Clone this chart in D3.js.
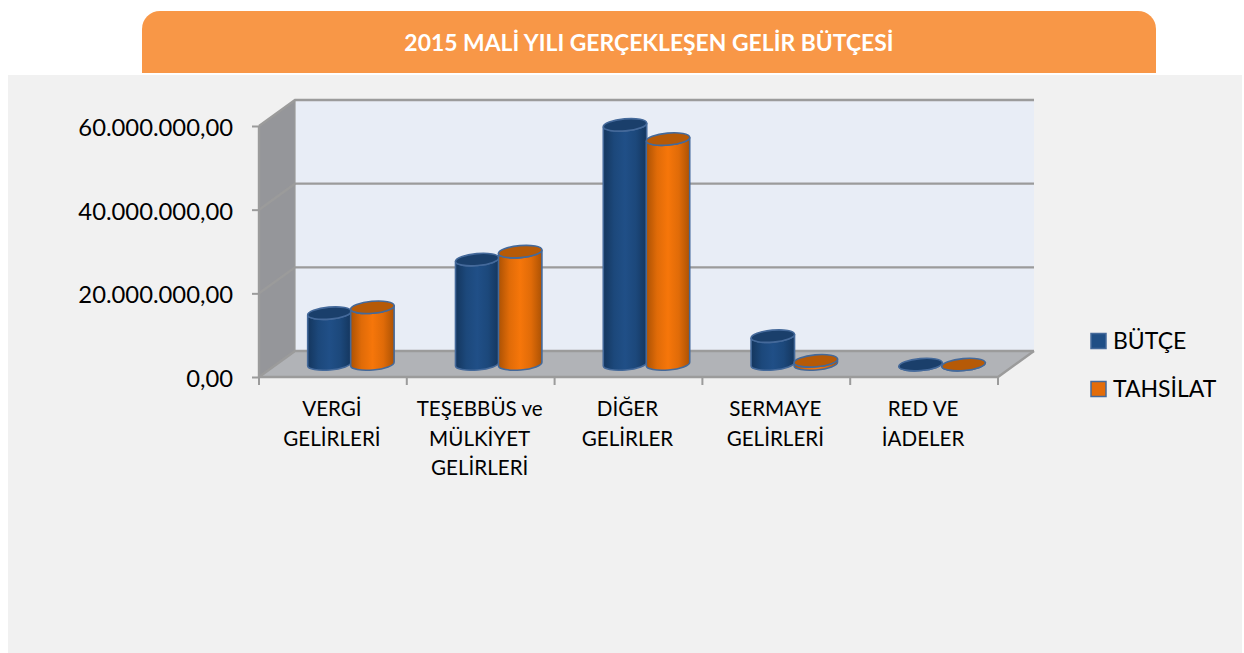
<!DOCTYPE html>
<html><head><meta charset="utf-8">
<script src="https://cdnjs.cloudflare.com/ajax/libs/d3/7.8.5/d3.min.js"></script>
<style>html,body{margin:0;padding:0;background:#fff;overflow:hidden}svg{display:block}text{font-family:Lato,"Open Sans",sans-serif}</style>
</head><body><svg id="c" width="1244" height="653"></svg>
<script>
const titleText = "2015 MALİ YILI GERÇEKLEŞEN GELİR BÜTÇESİ";
const categories = ["VERGİ GELİRLERİ","TEŞEBBÜS ve MÜLKİYET GELİRLERİ","DİĞER GELİRLER","SERMAYE GELİRLERİ","RED VE İADELER"];
const categoryLines = [["VERGİ","GELİRLERİ"],["TEŞEBBÜS ve","MÜLKİYET","GELİRLERİ"],["DİĞER","GELİRLER"],["SERMAYE","GELİRLERİ"],["RED VE","İADELER"]];
const seriesNames = ["BÜTÇE","TAHSİLAT"];
const butce = [12400000,25200000,57400000,6900000,100000];
const tahsilat = [13800000,27100000,54000000,1000000,100000];
const yTicks = [0,20000000,40000000,60000000];

const svg = d3.select("#c");
const depth = {x:36,y:-26};
const x = d3.scaleBand().domain(categories).range([259,998]).paddingInner(0).paddingOuter(0);
const y = d3.scaleLinear().domain([0,60000000]).range([377,126]);
const fmt = d3.formatLocale({decimal:",",thousands:".",grouping:[3],currency:["",""]}).format(",.2f");
const inner = d3.scaleBand().domain(seriesNames).range([-42,44]);
const RX = 21.8, RY = 6, ROT = -5;
const colors = {
  "BÜTÇE":{edge:"#14365e",mid:"#204f87",top:"#1a3f6b",leg:"#1f4e85"},
  "TAHSİLAT":{edge:"#ac5204",mid:"#f6760a",top:"#b65a07",leg:"#e36c09"}
};
const defs = svg.append("defs");
seriesNames.forEach((s,i)=>{
  const g = defs.append("linearGradient").attr("id","g"+i);
  [[0,colors[s].edge],[0.25,d3.interpolateRgb(colors[s].edge,colors[s].mid)(0.7)],[0.5,colors[s].mid],[0.75,d3.interpolateRgb(colors[s].edge,colors[s].mid)(0.7)],[1,colors[s].edge]]
    .forEach(d=>g.append("stop").attr("offset",d[0]).attr("stop-color",d[1]));
});

// Panel + header
svg.append("rect").attr("x",8).attr("y",75).attr("width",1234).attr("height",578).attr("fill","#f1f1f1");
svg.append("path").attr("d","M142,73V29a18,18 0 0 1 18,-18H1138a18,18 0 0 1 18,18V73Z").attr("fill","#f89747");
svg.append("text").attr("x",649).attr("y",51).attr("text-anchor","middle").attr("fill","#fff")
  .attr("font-size",22.9).attr("font-weight",700).text(titleText);

// 3D walls
const [x0,x1] = x.range(), y0 = y(0), yT = y(60000000);
const poly = pts => "M"+pts.map(p=>p.join(",")).join("L")+"Z";
svg.append("path").attr("d",poly([[x0+depth.x,y0+depth.y],[x1+depth.x,y0+depth.y],[x1+depth.x,yT+depth.y],[x0+depth.x,yT+depth.y]])).attr("fill","#e8edf6");
svg.append("path").attr("d",poly([[x0,y0],[x0+depth.x,y0+depth.y],[x0+depth.x,yT+depth.y],[x0,yT]])).attr("fill","#95969a");
svg.append("path").attr("d",poly([[x0,y0],[x0+depth.x,y0+depth.y],[x1+depth.x,y0+depth.y],[x1,y0]])).attr("fill","#b1b3b7");

const gridC = "#9b9b9b";
const grid = svg.append("g").attr("fill","none").attr("stroke",gridC).attr("stroke-width",2.4);
yTicks.forEach(t=>{
  grid.append("path").attr("d",`M${x0},${y(t)}L${x0+depth.x},${y(t)+depth.y}L${x1+depth.x},${y(t)+depth.y}`);
});
grid.append("path").attr("d",`M${x0},${y0}L${x1},${y0}L${x1+depth.x},${y0+depth.y}`);
grid.append("path").attr("d",`M${x0},${yT}V${y0}`);
grid.append("path").attr("d",`M${x0+depth.x},${yT+depth.y}V${y0+depth.y}`).attr("stroke-width",1.2);

// Y axis
const yAxis = d3.axisLeft(y).tickValues(yTicks).tickFormat(fmt).tickSize(7).tickPadding(19);
const ya = svg.append("g").attr("transform",`translate(${x0},0)`).call(yAxis);
ya.select(".domain").remove();
ya.selectAll("line").attr("stroke",gridC).attr("stroke-width",2);
ya.selectAll("text").attr("font-size",23.8).attr("fill","#000").attr("dy","0.4em").style("font-family","Lato");

// X ticks and labels
const edges = categories.map(c=>x(c)).concat([x1]);
svg.append("g").selectAll("line").data(edges).join("line")
  .attr("x1",d=>d).attr("x2",d=>d).attr("y1",y0).attr("y2",y0+8)
  .attr("stroke",gridC).attr("stroke-width",2);
const labels = svg.append("g").selectAll("text").data(categories).join("text")
  .attr("text-anchor","middle").attr("font-size",20.6).attr("fill","#000");
labels.each(function(c,i){
  d3.select(this).selectAll("tspan").data(categoryLines[i]).join("tspan")
    .attr("x",x(c)+x.bandwidth()/2-1).attr("y",(d,j)=>416+j*29.5).text(d=>d);
});

// Cylinders
const bars = [];
categories.forEach((c,i)=>{
  bars.push({c,s:seriesNames[0],si:0,v:butce[i]});
  bars.push({c,s:seriesNames[1],si:1,v:tahsilat[i]});
});
const midX = depth.x/2-1, midY = depth.y/2;
const b = svg.append("g");
bars.forEach(d=>{
  const cx = x(d.c)+x.bandwidth()/2+midX+inner(d.s)+inner.bandwidth()/2;
  const base = y(0)+midY, top = y(d.v)+midY+1;
  const a = ROT*Math.PI/180, dx = RX*Math.cos(a), dy = RX*Math.sin(a);
  const g = b.append("g").attr("stroke","#44699a").attr("stroke-width",1.6);
  g.append("path").attr("fill",`url(#g${d.si})`)
    .attr("d",`M${cx-dx},${base-dy}A${RX},${RY} ${ROT} 0 0 ${cx+dx},${base+dy}L${cx+dx},${top+dy}A${RX},${RY} ${ROT} 0 1 ${cx-dx},${top-dy}Z`);
  g.append("ellipse").attr("rx",RX).attr("ry",RY).attr("fill",colors[d.s].top)
    .attr("transform",`translate(${cx},${top}) rotate(${ROT})`);
});

// Legend
const legY = d3.scalePoint().domain(seriesNames).range([341,389]);
const leg = svg.append("g").selectAll("g").data(seriesNames).join("g")
  .attr("transform",d=>`translate(1091,${legY(d)})`);
leg.append("rect").attr("x",0).attr("y",-7.5).attr("width",15).attr("height",15)
  .attr("fill",d=>colors[d].leg).attr("stroke","#44699a").attr("stroke-width",1.5);
leg.append("text").attr("x",22).attr("y",8).attr("font-size",23).attr("fill","#000").text(d=>d);
</script></body></html>
